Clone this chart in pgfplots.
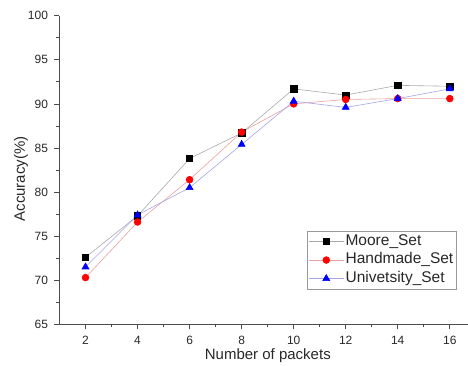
\documentclass[border=0pt]{standalone}
\usepackage{pgfplots}
\pgfplotsset{compat=1.18}
\usepackage{fontspec}
\setmainfont{Liberation Sans}
\definecolor{mline}{RGB}{170,170,170}
\definecolor{hline}{RGB}{235,160,160}
\definecolor{uline}{RGB}{165,165,230}
\definecolor{txt}{RGB}{40,40,40}
\begin{document}
\begin{tikzpicture}
\useasboundingbox (-59.5pt,-40.7pt) rectangle (408.5pt,324.3pt);
\begin{axis}[
  at={(0,0)}, anchor=south west,
  scale only axis,
  width=408.5pt, height=308.6pt,
  xmin=1, xmax=16.7, ymin=65, ymax=100,
  axis lines=left,
  axis line style={-, black!70, line width=0.8pt},
  xtick={2,4,...,16}, ytick={65,70,...,100},
  minor xtick={3,5,...,15}, minor ytick={67.5,72.5,...,97.5},
  tick align=outside,
  major tick length=5pt, minor tick length=3pt,
  tick style={black!70, line width=0.7pt},
  ticklabel style={font=\fontsize{12}{14}\selectfont, text=txt},
  yticklabel style={xshift=-3pt},
  xticklabel style={yshift=-3pt},
  /pgf/number format/assume math mode=true,
  xlabel={Number of packets}, ylabel={Accuracy(\%)},
  label style={font=\fontsize{15}{17}\selectfont, text=txt},
  xlabel style={at={(axis description cs:0.51,-0.1)}, anchor=center},
  ylabel style={at={(axis description cs:-0.0942,0.471)}, anchor=center},
  legend style={at={(axis description cs:0.9706,0.1144)}, anchor=south east, draw=black!40,
    font=\fontsize{15.5}{16}\selectfont, text=txt, row sep=0pt, inner sep=1pt,
    nodes={inner sep=1.5pt, text height=11.5pt, text depth=4pt}},
  legend cell align=left,
  legend image code/.code={\draw[#1] (0pt,0pt) -- (35pt,0pt); \draw[#1, only marks] plot coordinates {(17.5pt,0pt)};},
]
\addplot[mline, line width=0.6pt, mark=square*, mark size=3.2pt, mark options={draw=black, fill=black}] coordinates {
 (2,72.6) (4,77.3) (6,83.8) (8,86.7) (10,91.7) (12,91.0) (14,92.1) (16,92.0)};
\addlegendentry{Moore\_Set}
\addplot[hline, line width=0.6pt, mark=*, mark size=3.4pt, mark options={draw=red, fill=red}] coordinates {
 (2,70.3) (4,76.6) (6,81.4) (8,86.8) (10,90.0) (12,90.5) (14,90.6) (16,90.6)};
\addlegendentry{Handmade\_Set}
\addplot[uline, line width=0.6pt, mark=triangle*, mark size=4pt, mark options={draw=blue, fill=blue}] coordinates {
 (2,71.5) (4,77.4) (6,80.5) (8,85.4) (10,90.3) (12,89.6) (14,90.6) (16,91.7)};
\addlegendentry{Univetsity\_Set}
\end{axis}
\end{tikzpicture}
\end{document}
